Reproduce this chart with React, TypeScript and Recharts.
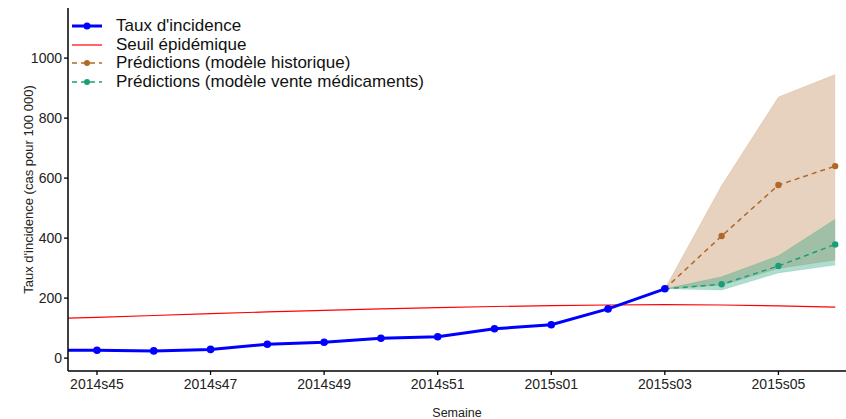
import React from "react";
import {
  ComposedChart,
  Line,
  Area,
  XAxis,
  YAxis,
} from "recharts";

// semaines (index -1 = 2014s44, hors cadre à gauche)
const weeks = [
  "2014s44", "2014s45", "2014s46", "2014s47", "2014s48", "2014s49", "2014s50",
  "2014s51", "2014s52", "2015s01", "2015s02", "2015s03", "2015s04", "2015s05", "2015s06",
];
const incidence = [26, 26, 24, 29, 46, 53, 66, 71, 98, 111, 164, 231, null, null, null];
const seuil = [130, 136, 142, 148, 154, 159, 164, 168, 172, 175, 177, 178, 177, 174, 170];

const histPred = [null, null, null, null, null, null, null, null, null, null, null, 231, 407, 577, 640];
const histLow = [null, null, null, null, null, null, null, null, null, null, null, 231, 243, 299, 327];
const histHigh = [null, null, null, null, null, null, null, null, null, null, null, 231, 575, 870, 945];

const medPred = [null, null, null, null, null, null, null, null, null, null, null, 231, 246, 307, 379];
const medLow = [null, null, null, null, null, null, null, null, null, null, null, 231, 227, 284, 310];
const medHigh = [null, null, null, null, null, null, null, null, null, null, null, 231, 271, 341, 463];

const xTicks = [0, 2, 4, 6, 8, 10, 12];
const yTicks = [0, 200, 400, 600, 800, 1000];

const BLUE = "#0000FF";
const RED = "#FF0000";
const BROWN = "#B0692A";
const GREEN = "#1B9E77";
const FONT = "Liberation Sans, Arial, sans-serif";

const data = weeks.map((w, i) => ({
  x: i - 1,
  week: w,
  incidence: incidence[i],
  seuil: seuil[i],
  hist: histPred[i],
  histBand: histLow[i] == null ? null : [histLow[i], histHigh[i]],
  med: medPred[i],
  medBand: medLow[i] == null ? null : [medLow[i], medHigh[i]],
}));

const legendItems = [
  { label: "Taux d'incidence", color: BLUE, dash: undefined, dot: true, width: 3 },
  { label: "Seuil épidémique", color: RED, dash: undefined, dot: false, width: 1.2 },
  { label: "Prédictions (modèle historique)", color: BROWN, dash: "5 4", dot: true, width: 1.5 },
  { label: "Prédictions (modèle vente médicaments)", color: GREEN, dash: "5 4", dot: true, width: 1.5 },
];

function LegendBox() {
  return (
    <div
      style={{
        position: "absolute",
        left: 70,
        top: 17,
        fontFamily: FONT,
        fontSize: 17,
        color: "#111",
      }}
    >
      {legendItems.map((it) => (
        <div key={it.label} style={{ display: "flex", alignItems: "center", height: 18.5 }}>
          <svg width={46} height={18} style={{ display: "block" }}>
            <line x1={2} x2={32} y1={9} y2={9} stroke={it.color} strokeWidth={it.width} strokeDasharray={it.dash} />
            {it.dot && <circle cx={17} cy={9} r={it.width > 2 ? 3.5 : 3} fill={it.color} />}
          </svg>
          <span style={{ lineHeight: "18px" }}>{it.label}</span>
        </div>
      ))}
    </div>
  );
}

const tickStyle = { fontFamily: FONT, fontSize: 14, fill: "#222" };

export default function App() {
  return (
    <div style={{ position: "absolute", left: 0, top: 0, width: 846, height: 419, background: "#fff" }}>
      <ComposedChart
        width={846}
        height={419}
        data={data}
        margin={{ top: 8, right: 0, bottom: 0, left: 0 }}
      >
        <XAxis
          dataKey="x"
          type="number"
          domain={[-0.51, 13.19]}
          allowDataOverflow
          ticks={xTicks}
          tickFormatter={(v: number) => weeks[v + 1]}
          height={48}
          tick={tickStyle}
          tickLine={{ stroke: "#000", strokeWidth: 1.3 }}
          axisLine={{ stroke: "#000", strokeWidth: 1.5 }}
          tickSize={4}
          tickMargin={4}
          label={{
            value: "Semaine",
            position: "insideBottom",
            offset: 2,
            style: { fontFamily: FONT, fontSize: 12.5, fill: "#222" },
          }}
        />
        <YAxis
          type="number"
          domain={[-43, 1167]}
          allowDataOverflow
          ticks={yTicks}
          width={68}
          tick={tickStyle}
          tickLine={{ stroke: "#000", strokeWidth: 1.3 }}
          axisLine={{ stroke: "#000", strokeWidth: 1.5 }}
          tickSize={4}
          tickMargin={2}
          label={{
            value: "Taux d'incidence (cas pour 100 000)",
            angle: -90,
            position: "insideLeft",
            offset: 28,
            dy: 0,
            style: { textAnchor: "middle", fontFamily: FONT, fontSize: 13, fill: "#222" },
          }}
        />
        <Area
          dataKey="histBand"
          stroke={BROWN}
          strokeOpacity={0.15}
          fill={BROWN}
          fillOpacity={0.3}
          isAnimationActive={false}
          legendType="none"
        />
        <Area
          dataKey="medBand"
          stroke={GREEN}
          strokeOpacity={0.15}
          fill={GREEN}
          fillOpacity={0.35}
          isAnimationActive={false}
          legendType="none"
        />
        <Line
          dataKey="seuil"
          stroke={RED}
          strokeWidth={1.2}
          dot={false}
          isAnimationActive={false}
        />
        <Line
          dataKey="hist"
          stroke={BROWN}
          strokeWidth={1.5}
          strokeDasharray="5 4"
          dot={{ r: 3.2, fill: BROWN, stroke: BROWN, strokeWidth: 0 }}
          isAnimationActive={false}
        />
        <Line
          dataKey="med"
          stroke={GREEN}
          strokeWidth={1.5}
          strokeDasharray="5 4"
          dot={{ r: 3.2, fill: GREEN, stroke: GREEN, strokeWidth: 0 }}
          isAnimationActive={false}
        />
        <Line
          dataKey="incidence"
          stroke={BLUE}
          strokeWidth={3}
          dot={{ r: 3.8, fill: BLUE, stroke: BLUE, strokeWidth: 0 }}
          isAnimationActive={false}
        />
      </ComposedChart>
      <LegendBox />
    </div>
  );
}
